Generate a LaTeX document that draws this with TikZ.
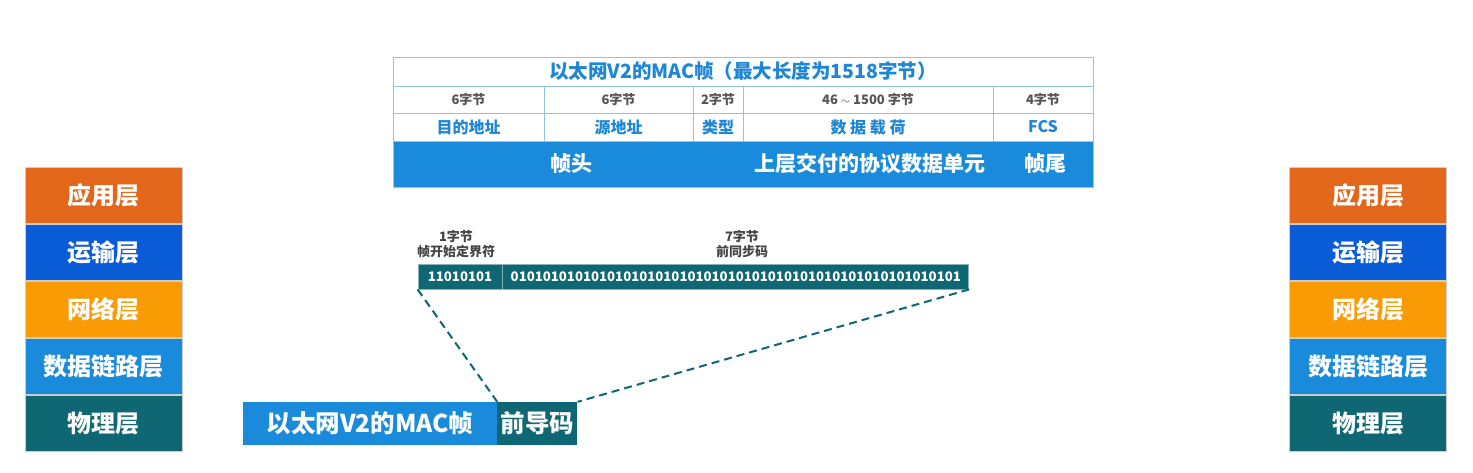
\documentclass[tikz,border=0pt]{standalone}
\usepackage{fontspec}
\setmainfont{Noto Sans CJK SC}
\usetikzlibrary{positioning}
\definecolor{appcol}{HTML}{E2671A}
\definecolor{tracol}{HTML}{0A5BD6}
\definecolor{netcol}{HTML}{F89B05}
\definecolor{lnkcol}{HTML}{1A8BDB}
\definecolor{phycol}{HTML}{0E6773}
\definecolor{tblline}{HTML}{8CC4EC}
\definecolor{tbltext}{HTML}{1E86D6}
\definecolor{bytetext}{HTML}{555555}
\tikzstyle{layer} = [rectangle, minimum width=157, minimum height=56.6, inner sep=0pt, text=white, draw=white!80!black, line width=0.4pt, font=\fontsize{24}{28}\selectfont\bfseries]
\tikzstyle{cell} = [rectangle, draw=tblline, line width=0.8pt, inner sep=0pt]
\tikzstyle{bytecell} = [cell, minimum height=27, text=bytetext, font=\fontsize{13}{15}\selectfont\bfseries]
\tikzstyle{fieldcell} = [cell, minimum height=28, text=tbltext, font=\fontsize{16}{18}\selectfont\bfseries]
\tikzstyle{bandtext} = [text=white, inner sep=0pt, font=\fontsize{21}{25}\selectfont\bfseries]
\tikzstyle{bitcell} = [rectangle, fill=phycol, draw=phycol!50!white, line width=0.8pt, minimum height=25, inner sep=0pt, text=white, font=\fontsize{13.2}{15}\selectfont\bfseries]
\tikzstyle{bitlabel} = [align=center, inner sep=0pt, text=bytetext!80!black, font=\fontsize{13}{15}\selectfont\bfseries]
\tikzstyle{framebox} = [rectangle, minimum height=43, inner sep=0pt, text=white, font=\fontsize{24.5}{28}\selectfont\bfseries]
\tikzstyle{dashline} = [phycol, line width=2pt, dash pattern=on 8pt off 5pt]

\begin{document}
\begin{tikzpicture}[x=1pt, y=-1pt]
  \useasboundingbox[fill=white] (0,0) rectangle (1473,472);

  % Links: Schichtenmodell
  \node[layer, fill=appcol] (lapp) at (103.5,195.3) {应用层};
  \node[layer, fill=tracol, below=0pt of lapp] (ltra) {运输层};
  \node[layer, fill=netcol, below=0pt of ltra] (lnet) {网络层};
  \node[layer, fill=lnkcol, below=0pt of lnet] (llnk) {数据链路层};
  \node[layer, fill=phycol, below=0pt of llnk] (lphy) {物理层};

  % Rechts: Schichtenmodell
  \node[layer, fill=appcol] (rapp) at (1368,195.3) {应用层};
  \node[layer, fill=tracol, below=0pt of rapp] (rtra) {运输层};
  \node[layer, fill=netcol, below=0pt of rtra] (rnet) {网络层};
  \node[layer, fill=lnkcol, below=0pt of rnet] (rlnk) {数据链路层};
  \node[layer, fill=phycol, below=0pt of rlnk] (rphy) {物理层};

  % Oben: MAC-Rahmen
  \node[cell, minimum width=700, minimum height=29, text=tbltext, font=\fontsize{19.5}{22}\selectfont\bfseries] (title) at (743,71.5) {以太网V2的MAC帧（最大长度为1518字节）};

  \node[bytecell, minimum width=151] (b1) at (468.5,99.5) {6字节};
  \node[bytecell, minimum width=149] (b2) at (618.5,99.5) {6字节};
  \node[bytecell, minimum width=50] (b3) at (718,99.5) {2字节};
  \node[bytecell, minimum width=250] (b4) at (868,99.5) {46 $\sim$ 1500 字节};
  \node[bytecell, minimum width=100] (b5) at (1043,99.5) {4字节};

  \node[fieldcell, minimum width=151] (f1) at (468.5,127) {目的地址};
  \node[fieldcell, minimum width=149] (f2) at (618.5,127) {源地址};
  \node[fieldcell, minimum width=50] (f3) at (718,127) {类型};
  \node[fieldcell, minimum width=250] (f4) at (868,127) {数\ 据\ 载\ 荷};
  \node[fieldcell, minimum width=100] (f5) at (1043,127) {FCS};

  \node[rectangle, fill=lnkcol, draw=tblline, line width=0.8pt, minimum width=700, minimum height=46, inner sep=0pt] (band) at (743,164) {};
  \node[bandtext] (hdr) at (571,164) {帧头};
  \node[bandtext] (pdu) at (870,164) {上层交付的协议数据单元};
  \node[bandtext] (trl) at (1045,164) {帧尾};

  % Mitte: Praeambel
  \node[bitlabel] (sfdlbl) at (456,244) {1字节\\帧开始定界符};
  \node[bitlabel] (prelbl) at (742,244) {7字节\\前同步码};
  \node[bitcell, minimum width=84] (sfd) at (460,276.5) {11010101};
  \node[bitcell, minimum width=466, right=0pt of sfd] (pre) {01010101010101010101010101010101010101010101010101010101};

  % Unten: Rahmen mit Praeambel
  \node[framebox, fill=lnkcol, minimum width=254] (mac) at (370,423.5) {以太网V2的MAC帧};
  \node[framebox, fill=phycol, minimum width=80, right=0pt of mac] (pream) {前导码};

  \draw[dashline] (sfd.south west) -- (pream.north west);
  \draw[dashline] (pre.south east) -- (pream.north east);
\end{tikzpicture}
\end{document}
